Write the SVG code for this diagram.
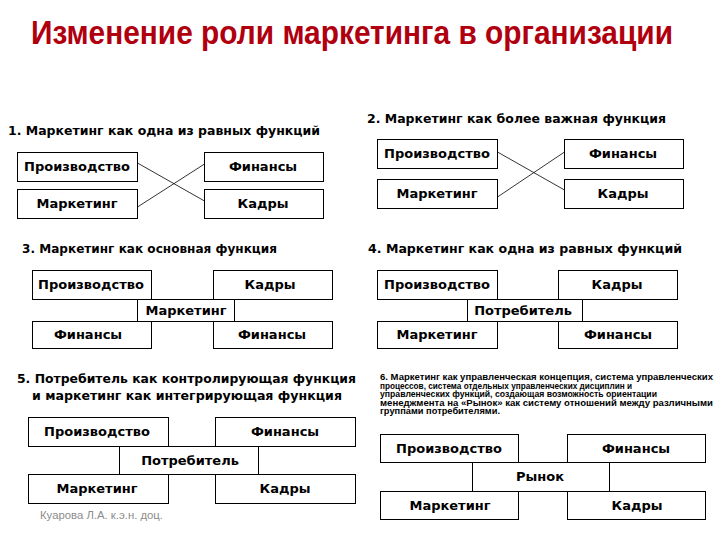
<svg xmlns="http://www.w3.org/2000/svg" width="720" height="540" viewBox="0 0 720 540">
<style>
.bg{fill:#ffffff}
.box{fill:#ffffff;stroke:#000000;stroke-width:1}
.lbl{font-family:"DejaVu Sans","Liberation Sans",sans-serif;font-weight:bold;font-size:13px;fill:#000000;text-anchor:middle}
.ttl{font-family:"DejaVu Sans","Liberation Sans",sans-serif;font-weight:bold;font-size:13px;fill:#000000}
.main{font-family:"Liberation Sans","DejaVu Sans",sans-serif;font-weight:bold;font-size:28px;fill:#B0000F}
.para{font-family:"Liberation Sans","DejaVu Sans",sans-serif;font-weight:bold;font-size:8.5px;fill:#000000}
.foot{font-family:"Liberation Sans","DejaVu Sans",sans-serif;font-size:10px;fill:#8c8c8c}
.con{stroke:#000000;stroke-width:0.8;fill:none}
</style>
<rect class="bg" x="0" y="0" width="720" height="540"/>
<text class="main" transform="translate(31,44) scale(1,1.18)" x="0" y="0" textLength="642" lengthAdjust="spacingAndGlyphs">Изменение роли маркетинга в организации</text>

<!-- Panel titles -->
<text class="ttl" x="8" y="135" textLength="312" lengthAdjust="spacingAndGlyphs">1. Маркетинг как одна из равных функций</text>
<text class="ttl" x="367" y="123" textLength="299" lengthAdjust="spacingAndGlyphs">2. Маркетинг как более важная функция</text>
<text class="ttl" x="22" y="253" textLength="255" lengthAdjust="spacingAndGlyphs">3. Маркетинг как основная функция</text>
<text class="ttl" x="368" y="253" textLength="314" lengthAdjust="spacingAndGlyphs">4. Маркетинг как одна из равных функций</text>
<text class="ttl" x="17" y="383" textLength="339" lengthAdjust="spacingAndGlyphs">5. Потребитель как контролирующая функция</text>
<text class="ttl" x="32" y="400" textLength="310" lengthAdjust="spacingAndGlyphs">и маркетинг как интегрирующая функция</text>
<g id="p6-text">
<text class="para" x="380" y="380" textLength="333" lengthAdjust="spacingAndGlyphs">6. Маркетинг как управленческая концепция, система управленческих</text>
<text class="para" x="380" y="388.5" textLength="252" lengthAdjust="spacingAndGlyphs">процессов, система отдельных  управленческих дисциплин и</text>
<text class="para" x="380" y="397" textLength="277" lengthAdjust="spacingAndGlyphs">управленческих функций, создающая возможность ориентации</text>
<text class="para" x="380" y="405.5" textLength="333" lengthAdjust="spacingAndGlyphs">менеджмента на «Рынок» как систему отношений между различными</text>
<text class="para" x="380" y="414" textLength="120" lengthAdjust="spacingAndGlyphs">группами потребителями.</text>
</g>

<!-- Connectors -->
<g id="connectors">
<line class="con" x1="137.5" y1="163" x2="204.5" y2="201"/>
<line class="con" x1="137.5" y1="207" x2="204.5" y2="164"/>
<line class="con" x1="497.5" y1="152" x2="564.5" y2="190"/>
<line class="con" x1="497.5" y1="197" x2="564.5" y2="152"/>
</g>

<!-- Panel 1 -->
<g id="p1-proizvodstvo"><rect class="box" x="17.5" y="152.5" width="120" height="29"/><text class="lbl" x="77" y="171">Производство</text></g>
<g id="p1-finansy"><rect class="box" x="204.5" y="152.5" width="119" height="29"/><text class="lbl" x="263" y="171">Финансы</text></g>
<g id="p1-marketing"><rect class="box" x="17.5" y="189.5" width="120" height="29"/><text class="lbl" x="77" y="208">Маркетинг</text></g>
<g id="p1-kadry"><rect class="box" x="204.5" y="189.5" width="119" height="29"/><text class="lbl" x="263" y="208">Кадры</text></g>

<!-- Panel 2 -->
<g id="p2-proizvodstvo"><rect class="box" x="377.5" y="139.5" width="120" height="29"/><text class="lbl" x="437" y="158">Производство</text></g>
<g id="p2-finansy"><rect class="box" x="564.5" y="139.5" width="119" height="29"/><text class="lbl" x="623" y="158">Финансы</text></g>
<g id="p2-marketing"><rect class="box" x="377.5" y="179.5" width="120" height="29"/><text class="lbl" x="437" y="198">Маркетинг</text></g>
<g id="p2-kadry"><rect class="box" x="564.5" y="179.5" width="119" height="29"/><text class="lbl" x="623" y="198">Кадры</text></g>

<!-- Panel 3 -->
<g id="p3-marketing"><rect class="box" x="137.5" y="299.5" width="97" height="22"/><text class="lbl" x="186" y="315">Маркетинг</text></g>
<g id="p3-proizvodstvo"><rect class="box" x="32.5" y="270.5" width="119" height="29"/><text class="lbl" x="91" y="289">Производство</text></g>
<g id="p3-kadry"><rect class="box" x="213.5" y="270.5" width="119" height="29"/><text class="lbl" x="270" y="289">Кадры</text></g>
<g id="p3-finansy-1"><rect class="box" x="32.5" y="321.5" width="119" height="27"/><text class="lbl" x="88" y="339">Финансы</text></g>
<g id="p3-finansy-2"><rect class="box" x="213.5" y="321.5" width="119" height="27"/><text class="lbl" x="272" y="339">Финансы</text></g>

<!-- Panel 4 -->
<g id="p4-potrebitel"><rect class="box" x="467.5" y="299.5" width="115" height="22"/><text class="lbl" x="523" y="315">Потребитель</text></g>
<g id="p4-proizvodstvo"><rect class="box" x="377.5" y="270.5" width="120" height="29"/><text class="lbl" x="437" y="289">Производство</text></g>
<g id="p4-kadry"><rect class="box" x="558.5" y="270.5" width="119" height="29"/><text class="lbl" x="617" y="289">Кадры</text></g>
<g id="p4-marketing"><rect class="box" x="377.5" y="321.5" width="120" height="27"/><text class="lbl" x="437" y="339">Маркетинг</text></g>
<g id="p4-finansy"><rect class="box" x="558.5" y="321.5" width="119" height="27"/><text class="lbl" x="618" y="339">Финансы</text></g>

<!-- Panel 5 -->
<g id="p5-potrebitel"><rect class="box" x="119.5" y="446.5" width="139" height="28"/><text class="lbl" x="190" y="465">Потребитель</text></g>
<g id="p5-proizvodstvo"><rect class="box" x="28.5" y="417.5" width="140" height="29"/><text class="lbl" x="97" y="436">Производство</text></g>
<g id="p5-finansy"><rect class="box" x="215.5" y="417.5" width="140" height="29"/><text class="lbl" x="285" y="436">Финансы</text></g>
<g id="p5-marketing"><rect class="box" x="28.5" y="474.5" width="140" height="29"/><text class="lbl" x="97" y="493">Маркетинг</text></g>
<g id="p5-kadry"><rect class="box" x="215.5" y="474.5" width="140" height="29"/><text class="lbl" x="285" y="493">Кадры</text></g>

<!-- Panel 6 -->
<g id="p6-rynok"><rect class="box" x="472.5" y="462.5" width="137" height="29"/><text class="lbl" x="540" y="481">Рынок</text></g>
<g id="p6-proizvodstvo"><rect class="box" x="380.5" y="434.5" width="138" height="28"/><text class="lbl" x="449" y="453">Производство</text></g>
<g id="p6-finansy"><rect class="box" x="567.5" y="434.5" width="138" height="28"/><text class="lbl" x="636" y="453">Финансы</text></g>
<g id="p6-marketing"><rect class="box" x="380.5" y="491.5" width="138" height="28"/><text class="lbl" x="450" y="510">Маркетинг</text></g>
<g id="p6-kadry"><rect class="box" x="567.5" y="491.5" width="138" height="28"/><text class="lbl" x="637" y="510">Кадры</text></g>

<text class="foot" x="40" y="519" textLength="123" lengthAdjust="spacingAndGlyphs">Куарова Л.А. к.э.н. доц.</text>
</svg>
